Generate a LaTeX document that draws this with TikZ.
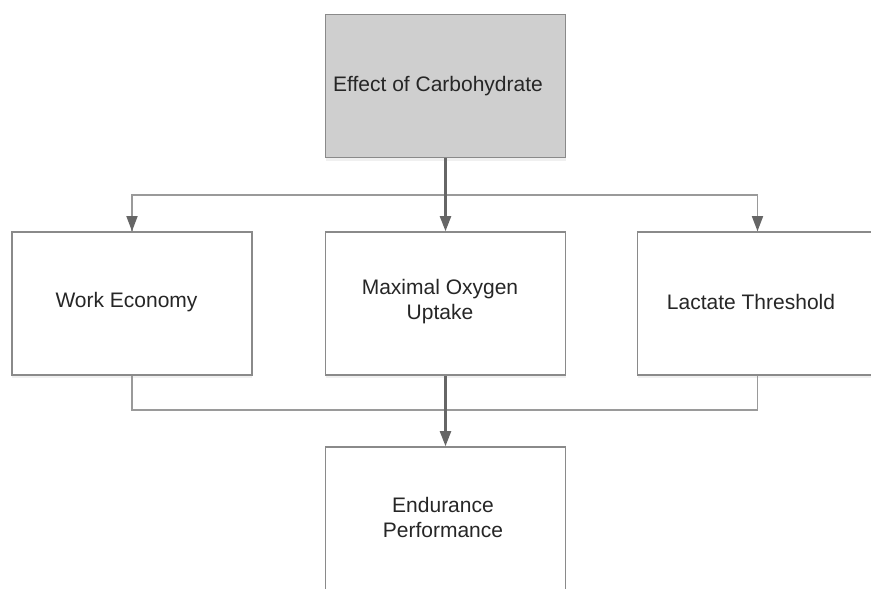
\documentclass[tikz,border=0pt]{standalone}
\usepackage{fontspec}
\setmainfont{Liberation Sans}
\usetikzlibrary{arrows.meta,shadows}
\definecolor{boxline}{HTML}{8A8A8A}
\definecolor{topfill}{HTML}{CFCFCF}
\definecolor{conn}{HTML}{9A9A9A}
\definecolor{connd}{HTML}{666666}
\tikzset{
  box/.style={draw=boxline, line width=1.6pt, fill=white, minimum width=240pt, minimum height=143pt,
    inner sep=0pt, drop shadow={opacity=0.12, shadow xshift=0pt, shadow yshift=-3pt}},
  conline/.style={draw=conn, line width=1.6pt},
  arr/.style={draw=connd, line width=2.2pt, -{Triangle[length=15pt,width=11pt]}},
  sidearr/.style={draw=conn, line width=1.6pt, -{Triangle[length=15pt,width=11pt,color=connd]}},
  txt/.style={font=\fontsize{21pt}{25pt}\selectfont, text=black!85, align=center, inner sep=0pt},
}
\begin{document}
\begin{tikzpicture}[x=1pt,y=-1pt]
\useasboundingbox (0,0) rectangle (871,589);
\begin{scope}
\clip (0,0) rectangle (871,589);
\node[box, fill=topfill] (top) at (445.5,86) {};
\node[box] (left) at (132,303.5) {};
\node[box] (mid) at (445.5,303.5) {};
\node[box] (right) at (757.5,303.5) {};
\node[box] (bot) at (445.5,518.5) {};
\end{scope}
\node[txt] (ttop) at (438,86) {Effect of Carbohydrate};
\node[txt] (tleft) at (126.5,302) {Work Economy};
\node[txt] (tmid) at (440,302) {Maximal Oxygen\\Uptake};
\node[txt] (tright) at (751,302) {Lactate Threshold};
\node[txt] (tbot) at (443,517) {Endurance\\Performance};
\coordinate (j1) at (445.5,195);
\coordinate (j2) at (445.5,410);
\draw[conline] (j1) -| (left.north);
\draw[conline] (j1) -| (right.north);
\draw[sidearr] (left.north |- j1) -- (left.north);
\draw[sidearr] (right.north |- j1) -- (right.north);
\draw[arr] (top.south) -- (mid.north);
\draw[conline] (left.south) |- (j2);
\draw[conline] (right.south) |- (j2);
\draw[arr] (mid.south) -- (bot.north);
\end{tikzpicture}
\end{document}
